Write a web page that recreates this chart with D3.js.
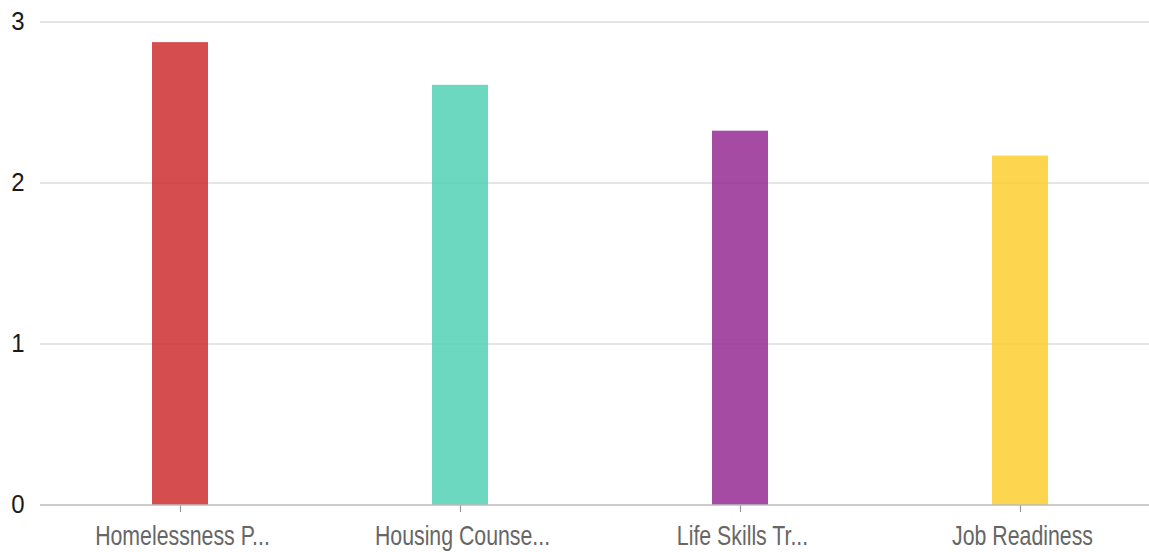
<!DOCTYPE html>
<html>
<head>
<meta charset="utf-8">
<script src="https://cdn.jsdelivr.net/npm/d3@7"></script>
<style>
  html, body { margin: 0; padding: 0; background: #fff; overflow: hidden; }
  svg { display: block; font-family: "Liberation Sans", Arial, sans-serif; }
</style>
</head>
<body>
<svg id="chart" width="1149" height="552"></svg>
<script>
// Program names and their average scores
const categories = ["Homelessness P...", "Housing Counse...", "Life Skills Tr...", "Job Readiness"];
const values = [2.875, 2.61, 2.325, 2.17];
const colors = ["#cf2e31", "#53d1b5", "#952c93", "#fece2f"];
const yTicks = [0, 1, 2, 3];

(function draw() {
  const svg = d3.select("#chart");
  const plotLeft = 40, plotRight = 1160, plotTop = 22, plotBottom = 505;

  const x = d3.scalePoint().domain(categories).range([plotLeft, plotRight]).padding(0.5);
  const y = d3.scaleLinear().domain([0, 3]).range([plotBottom, plotTop]);
  const barW = x.step() * 0.2;

  // Horizontal gridlines
  svg.append("g")
    .selectAll("line")
    .data(yTicks.filter(d => d !== 0))
    .join("line")
    .attr("x1", plotLeft).attr("x2", 1149)
    .attr("y1", d => y(d)).attr("y2", d => y(d))
    .attr("stroke", "#dcdcdc").attr("stroke-width", 1.5);

  // Y axis labels (tall, slightly stretched glyphs)
  const yAxis = d3.axisLeft(y).tickValues(yTicks).tickSize(0).tickPadding(0).tickFormat(d3.format("d"));
  svg.append("g")
    .attr("transform", "translate(18,0)")
    .call(yAxis)
    .call(g => g.select(".domain").remove())
    .call(g => g.selectAll("text")
      .attr("text-anchor", "middle")
      .attr("x", 0).attr("y", 0).attr("dy", 0)
      .attr("transform", "translate(0,7) scale(1,1.1)")
      .attr("font-size", 24).attr("fill", "#1a1a1a")
      .attr("font-family", "'Liberation Sans', Arial, sans-serif"));

  // Bars
  svg.append("g")
    .selectAll("rect")
    .data(categories)
    .join("rect")
    .attr("x", d => x(d) - barW / 2)
    .attr("width", barW)
    .attr("y", (d, i) => y(values[i]))
    .attr("height", (d, i) => y(0) - y(values[i]))
    .attr("fill", (d, i) => colors[i])
    .attr("fill-opacity", 0.85);

  // X axis
  const xAxis = d3.axisBottom(x).tickSize(7);
  svg.append("g")
    .attr("transform", `translate(0,${plotBottom})`)
    .call(xAxis)
    .call(g => g.select(".domain").remove())
    .call(g => g.selectAll(".tick line").attr("stroke", "#999").attr("stroke-width", 1.2))
    .call(g => g.selectAll("text")
      .attr("x", 2).attr("y", 0).attr("dy", 0)
      .attr("transform", "translate(0,40) scale(1,1.27)")
      .attr("font-size", 21.3).attr("fill", "#666")
      .attr("font-family", "'Liberation Sans', Arial, sans-serif"));

  // Baseline
  svg.append("line")
    .attr("x1", plotLeft).attr("x2", 1149)
    .attr("y1", y(0)).attr("y2", y(0))
    .attr("stroke", "#bbb").attr("stroke-width", 1.5);
})();
</script>
</body>
</html>
